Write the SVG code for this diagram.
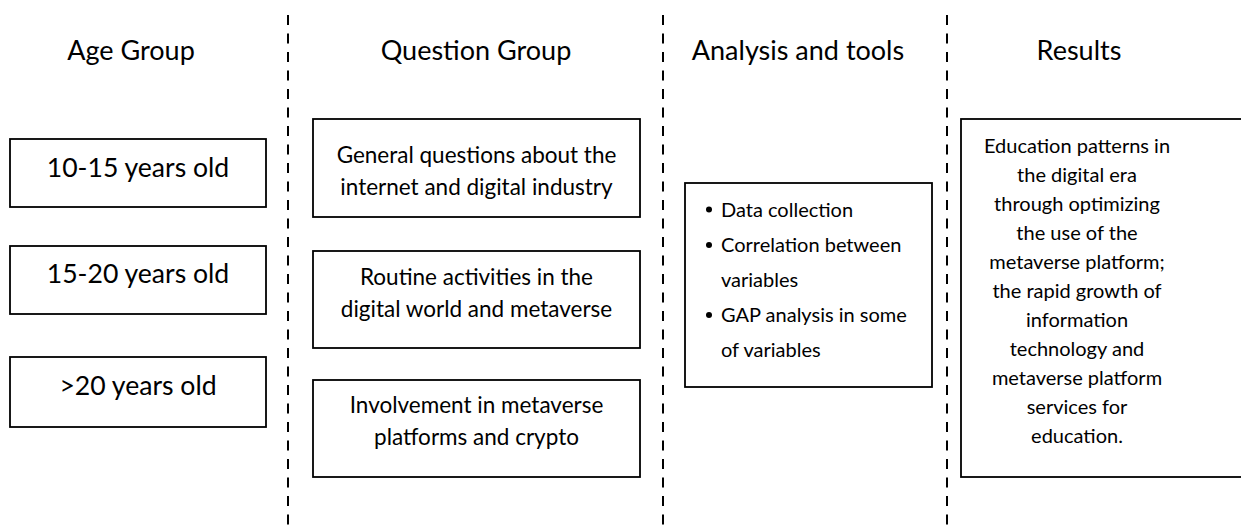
<svg xmlns="http://www.w3.org/2000/svg" width="1241" height="526" viewBox="0 0 1241 526">
  <style>
    text { font-family: Lato, "Open Sans", "Liberation Sans", sans-serif; fill: #000; }
    .title { font-size: 27px; text-anchor: middle; }
    .age { font-size: 26.6px; text-anchor: middle; }
    .q { font-size: 22.5px; text-anchor: middle; }
    .an { font-size: 20px; }
    .res { font-size: 20px; text-anchor: middle; }
    .box { fill: #fff; stroke: #000; stroke-width: 1.8; }
    .sep { stroke: #000; stroke-width: 2; stroke-dasharray: 10 8.5; fill: none; }
  </style>

  <!-- column separators -->
  <g id="separators">
    <line class="sep" x1="288" y1="15" x2="288" y2="526"/>
    <line class="sep" x1="663" y1="15" x2="663" y2="526"/>
    <line class="sep" x1="947" y1="15" x2="947" y2="526"/>
  </g>

  <!-- column headings -->
  <g id="headings">
    <text class="title" x="131" y="60">Age Group</text>
    <text class="title" x="476" y="60">Question Group</text>
    <text class="title" x="798" y="60">Analysis and tools</text>
    <text class="title" x="1079" y="60">Results</text>
  </g>

  <!-- age groups -->
  <g id="age-10-15">
    <rect class="box" x="10" y="139" width="256" height="68"/>
    <text class="age" x="138" y="177">10-15 years old</text>
  </g>
  <g id="age-15-20">
    <rect class="box" x="10" y="246" width="256" height="68"/>
    <text class="age" x="138" y="283">15-20 years old</text>
  </g>
  <g id="age-20-plus">
    <rect class="box" x="10" y="357" width="256" height="70"/>
    <text class="age" x="138" y="395">&gt;20 years old</text>
  </g>

  <!-- question groups -->
  <g id="q-general">
    <rect class="box" x="313" y="119" width="327" height="98"/>
    <text class="q" x="476.5" y="163">General questions about the</text>
    <text class="q" x="476.5" y="195">internet and digital industry</text>
  </g>
  <g id="q-routine">
    <rect class="box" x="313" y="251" width="327" height="97"/>
    <text class="q" x="476.5" y="285">Routine activities in the</text>
    <text class="q" x="476.5" y="317">digital world and metaverse</text>
  </g>
  <g id="q-involvement">
    <rect class="box" x="313" y="380" width="327" height="97"/>
    <text class="q" x="476.5" y="413">Involvement in metaverse</text>
    <text class="q" x="476.5" y="445">platforms and crypto</text>
  </g>

  <!-- analysis and tools -->
  <g id="analysis">
    <rect class="box" x="685" y="183" width="247" height="204"/>
    <circle cx="709" cy="209.5" r="3"/>
    <circle cx="709" cy="245" r="3"/>
    <circle cx="709" cy="315" r="3"/>
    <text class="an" x="721" y="217">Data collection</text>
    <text class="an" x="721" y="252">Correlation between</text>
    <text class="an" x="721" y="287">variables</text>
    <text class="an" x="721" y="322">GAP analysis in some</text>
    <text class="an" x="721" y="357">of variables</text>
  </g>

  <!-- results -->
  <g id="results">
    <rect class="box" x="961" y="119" width="290" height="358"/>
    <text class="res" x="1077" y="153">Education patterns in</text>
    <text class="res" x="1077" y="182">the digital era</text>
    <text class="res" x="1077" y="211">through optimizing</text>
    <text class="res" x="1077" y="240">the use of the</text>
    <text class="res" x="1077" y="269">metaverse platform;</text>
    <text class="res" x="1077" y="298">the rapid growth of</text>
    <text class="res" x="1077" y="327">information</text>
    <text class="res" x="1077" y="356">technology and</text>
    <text class="res" x="1077" y="385">metaverse platform</text>
    <text class="res" x="1077" y="414">services for</text>
    <text class="res" x="1077" y="443">education.</text>
  </g>
</svg>
